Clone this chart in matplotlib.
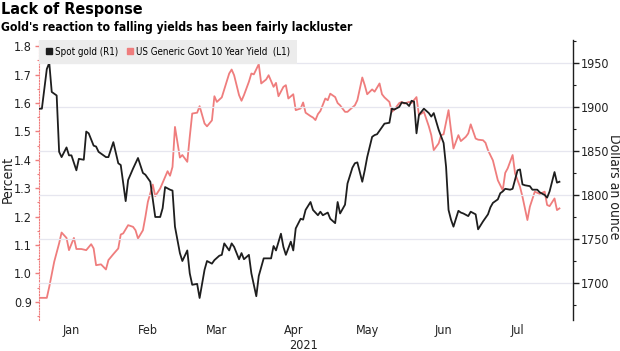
import matplotlib
matplotlib.use('Agg')
import matplotlib.pyplot as plt
import matplotlib.dates as mdates
import matplotlib.ticker as mticker
import matplotlib.transforms as mtransforms
from matplotlib.lines import Line2D
import pandas as pd

plt.rcParams['font.family'] = ['DejaVu Sans']
plt.rcParams['font.stretch'] = 'condensed'

start = pd.Timestamp('2021-01-01')

# spot gold, dollars an ounce (day = days after Jan 1)
gold_day = [2, 3, 5, 6, 7, 9, 10, 11, 13, 14, 15, 17, 18, 20, 21, 22, 24, 25, 26,
            29, 30, 32, 34, 35, 37, 38, 40, 42, 44, 45, 47, 49, 51, 52, 53, 55, 56,
            57, 59, 60, 62, 63, 64, 66, 67, 69, 70, 72, 73, 75, 76, 77, 79, 80, 81,
            83, 84, 85, 87, 88, 90, 91, 93, 94, 96, 97, 98, 100, 101, 102, 104, 105,
            106, 108, 109, 110, 112, 113, 115, 116, 117, 119, 120, 122, 123, 124,
            126, 127, 129, 130, 131, 133, 134, 135, 137, 138, 139, 141, 142, 144,
            145, 146, 148, 149, 151, 152, 153, 154, 155, 156, 158, 160, 161, 162,
            164, 166, 167, 168, 169, 170, 172, 173, 174, 176, 177, 179, 180, 182,
            184, 185, 186, 188, 189, 190, 191, 193, 194, 196, 197, 198, 199, 201,
            202, 204, 205, 207, 208, 209, 211, 212, 213]
gold_price = [1898, 1898, 1943, 1950, 1917, 1913, 1849, 1843, 1854, 1845, 1845, 1828,
              1841, 1840, 1872, 1870, 1856, 1855, 1849, 1843, 1843, 1860, 1836, 1834,
              1793, 1817, 1830, 1842, 1825, 1823, 1815, 1775, 1775, 1785, 1809, 1806,
              1805, 1764, 1734, 1725, 1737, 1711, 1698, 1699, 1683, 1715, 1725, 1722,
              1726, 1731, 1732, 1745, 1737, 1745, 1741, 1727, 1734, 1727, 1732, 1711,
              1685, 1708, 1728, 1728, 1728, 1742, 1737, 1756, 1741, 1732, 1747, 1737,
              1762, 1773, 1772, 1783, 1792, 1783, 1777, 1781, 1777, 1780, 1773, 1768,
              1792, 1779, 1789, 1813, 1831, 1836, 1837, 1815, 1828, 1843, 1866, 1868,
              1869, 1877, 1881, 1882, 1898, 1897, 1900, 1905, 1904, 1901, 1907, 1906,
              1870, 1891, 1898, 1893, 1889, 1893, 1874, 1859, 1832, 1783, 1772, 1764,
              1782, 1780, 1779, 1776, 1781, 1778, 1761, 1770, 1778, 1786, 1791, 1795,
              1802, 1804, 1807, 1806, 1807, 1828, 1829, 1812, 1811, 1810, 1806, 1806,
              1803, 1800, 1797, 1804, 1826, 1814, 1815]

# US generic govt 10 year yield, percent
yield_day = [2, 5, 6, 8, 10, 11, 13, 14, 16, 17, 19, 21, 23, 24, 25, 27, 29, 30, 32,
             34, 35, 36, 38, 40, 41, 42, 44, 45, 46, 48, 49, 51, 53, 54, 55, 56, 57,
             59, 60, 62, 63, 64, 66, 67, 69, 70, 72, 73, 74, 76, 77, 79, 80, 81, 83,
             84, 85, 87, 88, 89, 91, 92, 94, 95, 97, 98, 99, 101, 102, 103, 105, 106,
             108, 109, 110, 112, 113, 114, 115, 116, 118, 119, 120, 122, 123, 124,
             126, 127, 128, 130, 131, 133, 134, 135, 137, 138, 140, 141, 142, 144,
             145, 146, 148, 149, 150, 152, 153, 155, 156, 158, 160, 161, 162, 164,
             165, 166, 168, 169, 170, 172, 173, 175, 176, 177, 179, 180, 182, 183,
             184, 186, 187, 188, 190, 191, 192, 194, 195, 197, 198, 200, 201, 203,
             204, 205, 207, 208, 209, 211, 212, 213]
yield_pct = [0.914, 0.914, 0.953, 1.041, 1.106, 1.144, 1.125, 1.082, 1.125, 1.086,
             1.086, 1.082, 1.103, 1.088, 1.029, 1.032, 1.014, 1.047, 1.068, 1.088,
             1.137, 1.141, 1.170, 1.164, 1.152, 1.123, 1.152, 1.199, 1.252, 1.313,
             1.272, 1.299, 1.340, 1.360, 1.344, 1.375, 1.516, 1.408, 1.417, 1.393,
             1.481, 1.563, 1.566, 1.589, 1.528, 1.518, 1.539, 1.624, 1.604, 1.620,
             1.648, 1.704, 1.718, 1.698, 1.628, 1.608, 1.628, 1.675, 1.704, 1.701,
             1.737, 1.669, 1.683, 1.698, 1.657, 1.671, 1.624, 1.657, 1.663, 1.616,
             1.631, 1.575, 1.581, 1.602, 1.566, 1.554, 1.549, 1.540, 1.561, 1.572,
             1.616, 1.610, 1.633, 1.621, 1.600, 1.592, 1.569, 1.569, 1.577, 1.592,
             1.610, 1.690, 1.663, 1.631, 1.648, 1.640, 1.669, 1.631, 1.620, 1.604,
             1.569, 1.577, 1.600, 1.604, 1.598, 1.604, 1.600, 1.621, 1.557, 1.569,
             1.518, 1.487, 1.434, 1.458, 1.487, 1.490, 1.575, 1.504, 1.440, 1.487,
             1.466, 1.481, 1.493, 1.525, 1.475, 1.471, 1.469, 1.460, 1.434, 1.398,
             1.363, 1.328, 1.293, 1.354, 1.370, 1.417, 1.352, 1.305, 1.270, 1.188,
             1.235, 1.288, 1.284, 1.280, 1.288, 1.241, 1.237, 1.264, 1.223, 1.229]

gold_dates = start + pd.to_timedelta(gold_day, unit='D')
yield_dates = start + pd.to_timedelta(yield_day, unit='D')

red = '#ef7d7d'
black = '#1e1e1e'
text_col = '#222222'

fig = plt.figure(figsize=(6.2, 3.51), dpi=100)
ax = fig.add_axes([39 / 620, 1 - 320 / 351, (573 - 39) / 620, 280 / 351])
ax2 = ax.twinx()

ax.plot(yield_dates, yield_pct, color=red, lw=1.3)
ax2.plot(gold_dates, gold_price, color=black, lw=1.3)

ax.set_ylim(0.836, 1.822)
ax2.set_ylim(1658, 1976)
ax.set_xlim(pd.Timestamp('2021-01-02 20:00'), pd.Timestamp('2021-08-07 12:00'))

# left axis (yield)
ax.yaxis.set_major_locator(mticker.MultipleLocator(0.1))
ax.yaxis.set_minor_locator(mticker.MultipleLocator(0.05))
ax.yaxis.set_major_formatter(mticker.FormatStrFormatter('%.1f'))
ax.tick_params(axis='y', which='major', colors=red, labelcolor=text_col,
               labelsize=9, length=3, width=1, pad=2)
ax.tick_params(axis='y', which='minor', colors=red, length=1.5, width=0.8)

# right axis (gold)
ax2.yaxis.set_major_locator(mticker.MultipleLocator(50))
ax2.yaxis.set_minor_locator(mticker.MultipleLocator(25))
ax2.tick_params(axis='y', which='major', colors=black, labelcolor=text_col,
                labelsize=9, length=4, width=1, pad=1.5)
ax2.tick_params(axis='y', which='minor', colors=black, length=2.5, width=0.8)

fig.text(8 / 620, 1 - 180 / 351, 'Percent', rotation=90, ha='center', va='center',
         fontsize=10, color=text_col)
fig.text(614 / 620, 1 - 187 / 351, 'Dollars an ounce', rotation=-90, ha='center',
         va='center', fontsize=10, color=text_col)

# x axis: month boundaries as grid, month names mid-month
ax.xaxis.set_major_locator(mdates.MonthLocator())
ax.xaxis.set_major_formatter(mticker.NullFormatter())
ax.xaxis.set_minor_locator(mdates.MonthLocator(bymonthday=16))
ax.xaxis.set_minor_formatter(mdates.DateFormatter('%b'))
ax.tick_params(axis='x', which='both', length=0, labelsize=9,
               labelcolor=text_col, pad=3)

ax2.xaxis.set_major_locator(mdates.MonthLocator())
ax2.grid(True, which='major', color='#e6e6ef', lw=0.9)

for s in ['top', 'right', 'bottom']:
    ax.spines[s].set_visible(False)
ax.spines['left'].set_color(red)
ax.spines['left'].set_linestyle((0, (1, 1.5)))
for s in ['top', 'left', 'bottom']:
    ax2.spines[s].set_visible(False)
ax2.spines['right'].set_color(black)
ax2.spines['right'].set_linewidth(1.0)

trans = mtransforms.blended_transform_factory(ax.transData, ax.transAxes)
ax.text(pd.Timestamp('2021-04-20'), -0.068, '2021', transform=trans,
        ha='center', va='top', fontsize=9, color=text_col)

handles = [Line2D([], [], marker='s', color=black, ls='none', markersize=5),
           Line2D([], [], marker='s', color=red, ls='none', markersize=5)]
leg = ax2.legend(handles, ['Spot gold (R1)', 'US Generic Govt 10 Year Yield  (L1)'],
                 loc='upper left', bbox_to_anchor=(0, 1), ncol=2, frameon=True,
                 fancybox=False, fontsize=7, handlelength=0.6, handletextpad=0.3,
                 columnspacing=1.0, borderpad=0.7, borderaxespad=0)
leg.get_frame().set_facecolor('#ececec')
leg.get_frame().set_edgecolor('none')
leg.get_frame().set_alpha(1)

fig.text(1 / 620, 1 - 2 / 351, 'Lack of Response', ha='left', va='top',
         fontsize=11.5, fontweight='bold', color='black')
fig.text(1 / 620, 1 - 21 / 351, "Gold's reaction to falling yields has been fairly lackluster",
         ha='left', va='top', fontsize=8.7, fontweight='bold', color='black')

fig.savefig('out.png', dpi=100)
